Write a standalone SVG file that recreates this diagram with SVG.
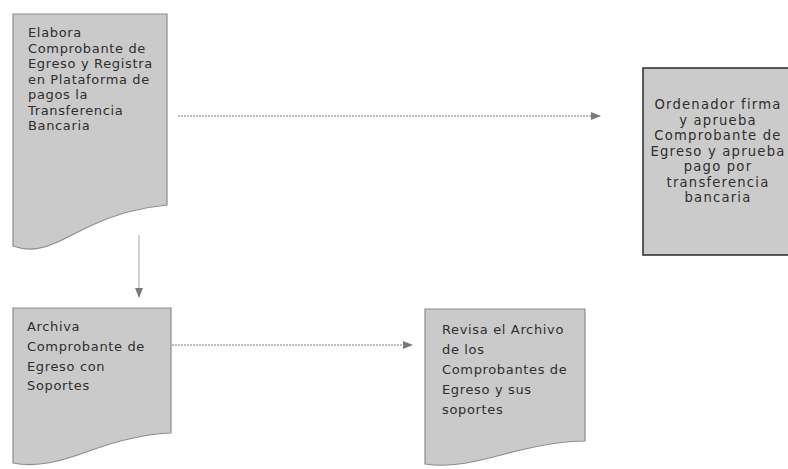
<svg xmlns="http://www.w3.org/2000/svg" width="788" height="469" viewBox="0 0 788 469">
<style>
.doc{fill:#cacaca;stroke:#8c8c8c;stroke-width:1.2}
.box{fill:#cbcbcb;stroke:#2a2a2a;stroke-width:1.5}
.t{font-family:"DejaVu Sans",sans-serif;font-size:13px;letter-spacing:0.65px;fill:#2e2e2e}
.tr{font-family:"DejaVu Sans",sans-serif;font-size:13.2px;letter-spacing:1.2px;fill:#2e2e2e;text-anchor:middle}
.c{fill:none;stroke:#7a7a7a;stroke-width:1.2;stroke-dasharray:2 1}
.cv{fill:none;stroke:#cfcfcf;stroke-width:2}
</style>
<defs>
<marker id="ah" markerWidth="10" markerHeight="8" refX="9" refY="4" orient="auto" markerUnits="userSpaceOnUse">
<path d="M0,0 L10,4 L0,8 Z" fill="#7a7a7a"/>
</marker>
</defs>
<rect width="788" height="469" fill="#ffffff"/>
<g id="connectors">
<line class="c" x1="178" y1="116" x2="600" y2="116" marker-end="url(#ah)"/>
<line class="cv" x1="139" y1="235" x2="139" y2="297" marker-end="url(#ah)"/>
<line class="c" x1="172" y1="345" x2="412" y2="345" marker-end="url(#ah)"/>
</g>
<g id="n1">
<path class="doc" d="M13,14 H167 V205 C145,207 120,212 90,226 C60,240 40,256 13,246 Z"/>
<text class="t" x="28" y="37">Elabora</text>
<text class="t" x="28" y="52.5">Comprobante de</text>
<text class="t" x="28" y="68">Egreso y Registra</text>
<text class="t" x="28" y="83.5">en Plataforma de</text>
<text class="t" x="28" y="99">pagos la</text>
<text class="t" x="28" y="114.5">Transferencia</text>
<text class="t" x="28" y="130">Bancaria</text>
</g>
<g id="n2">
<rect class="box" x="643" y="68" width="150" height="187"/>
<text class="tr" x="718" y="109">Ordenador firma</text>
<text class="tr" x="718" y="124.5">y aprueba</text>
<text class="tr" x="718" y="140">Comprobante de</text>
<text class="tr" x="718" y="155.5">Egreso y aprueba</text>
<text class="tr" x="718" y="171">pago por</text>
<text class="tr" x="718" y="186.5">transferencia</text>
<text class="tr" x="718" y="202">bancaria</text>
</g>
<g id="n3">
<path class="doc" d="M13,308 H171 V433 C145,434 120,440 92,450 C62,461 38,468 13,463 Z"/>
<text class="t" x="27" y="331">Archiva</text>
<text class="t" x="27" y="351">Comprobante de</text>
<text class="t" x="27" y="371">Egreso con</text>
<text class="t" x="27" y="390">Soportes</text>
</g>
<g id="n4">
<path class="doc" d="M425,309 H585 V441 C560,441 535,446 505,454 C475,462 450,468 425,464 Z"/>
<text class="t" x="442" y="334">Revisa el Archivo</text>
<text class="t" x="442" y="354">de los</text>
<text class="t" x="442" y="374">Comprobantes de</text>
<text class="t" x="442" y="394">Egreso y sus</text>
<text class="t" x="442" y="414">soportes</text>
</g>
</svg>
